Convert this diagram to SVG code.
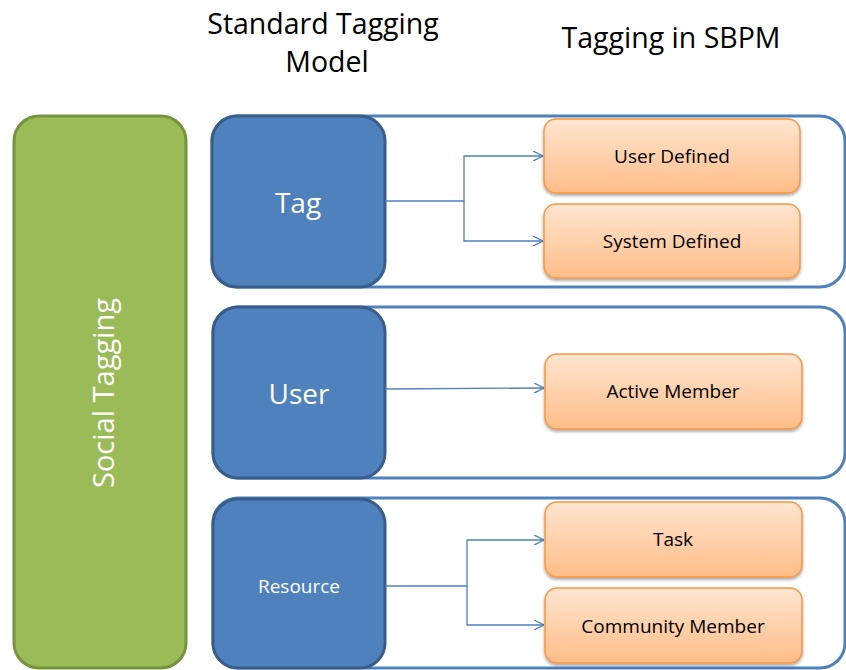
<svg xmlns="http://www.w3.org/2000/svg" width="846" height="670" viewBox="0 0 846 670">
<defs>
<linearGradient id="og" x1="0" y1="0" x2="0" y2="1">
<stop offset="0" stop-color="#ffe5d0"/>
<stop offset="1" stop-color="#ffbd88"/>
</linearGradient>
<filter id="sh" x="-10%" y="-10%" width="120%" height="130%">
<feDropShadow dx="0" dy="2" stdDeviation="1.5" flood-color="#000" flood-opacity="0.35"/>
</filter>
<marker id="ar" viewBox="0 0 10 10" refX="10" refY="5" markerWidth="10" markerHeight="10" markerUnits="userSpaceOnUse" orient="auto">
<path d="M0,0 L10,5 L0,10" fill="none" stroke="#4f81bd" stroke-width="1.3"/>
</marker>
</defs>
<style>
.t{font-family:"Open Sans","Liberation Sans",sans-serif}
.hd{font-size:28.5px;fill:#000;text-anchor:middle}
.row{fill:#fff;stroke:#4f81bd;stroke-width:3}
.bb{fill:#4f81bd;stroke:#385d8a;stroke-width:3}
.bt{fill:#fff;text-anchor:middle;dominant-baseline:central}
.ob{fill:url(#og);stroke:#f79646;stroke-width:1.5;filter:url(#sh)}
.ot{font-size:19px;fill:#000;text-anchor:middle;dominant-baseline:central}
.cn{fill:none;stroke:#4f81bd;stroke-width:1.3}
</style>
<text class="t hd" x="323" y="34">Standard Tagging</text>
<text class="t hd" x="327" y="72">Model</text>
<text class="t hd" x="671" y="48">Tagging in SBPM</text>

<g id="social">
<rect x="14" y="116" width="172" height="552" rx="25" fill="#9bbb59" stroke="#77933c" stroke-width="3"/>
<text class="t bt" x="102" y="393" font-size="29" transform="rotate(-90 102 393)">Social Tagging</text>
</g>

<g id="row-tag">
<rect class="row" x="212" y="116" width="633" height="171" rx="25"/>
</g>
<g id="row-user">
<rect class="row" x="213" y="307" width="632" height="171" rx="25"/>
</g>
<g id="row-resource">
<rect class="row" x="213" y="498" width="632" height="170" rx="25"/>
</g>

<g id="tag">
<rect class="bb" x="212" y="116" width="173" height="171" rx="25"/>
<text class="t bt" x="298" y="202" font-size="28">Tag</text>
</g>
<g id="user">
<rect class="bb" x="213" y="307" width="172" height="171" rx="25"/>
<text class="t bt" x="299" y="393" font-size="28">User</text>
</g>
<g id="resource">
<rect class="bb" x="213" y="499" width="172" height="169" rx="25"/>
<text class="t bt" x="299" y="586" font-size="19">Resource</text>
</g>

<g id="connectors">
<path class="cn" d="M385,201 H464 V156 H543" marker-end="url(#ar)"/>
<path class="cn" d="M464,201 V241 H543" marker-end="url(#ar)"/>
<path class="cn" d="M385,389 L544,388" marker-end="url(#ar)"/>
<path class="cn" d="M385,586 H467 V540 H544" marker-end="url(#ar)"/>
<path class="cn" d="M467,586 V625 H544" marker-end="url(#ar)"/>
</g>

<g id="user-defined">
<rect class="ob" x="544" y="119" width="256" height="74" rx="12"/>
<text class="t ot" x="672" y="156">User Defined</text>
</g>
<g id="system-defined">
<rect class="ob" x="544" y="204" width="256" height="74" rx="12"/>
<text class="t ot" x="672" y="241">System Defined</text>
</g>
<g id="active-member">
<rect class="ob" x="545" y="354" width="257" height="75" rx="12"/>
<text class="t ot" x="673" y="391">Active Member</text>
</g>
<g id="task">
<rect class="ob" x="545" y="502" width="257" height="75" rx="12"/>
<text class="t ot" x="673" y="539">Task</text>
</g>
<g id="community-member">
<rect class="ob" x="545" y="588" width="257" height="75" rx="12"/>
<text class="t ot" x="673" y="626">Community Member</text>
</g>
</svg>
